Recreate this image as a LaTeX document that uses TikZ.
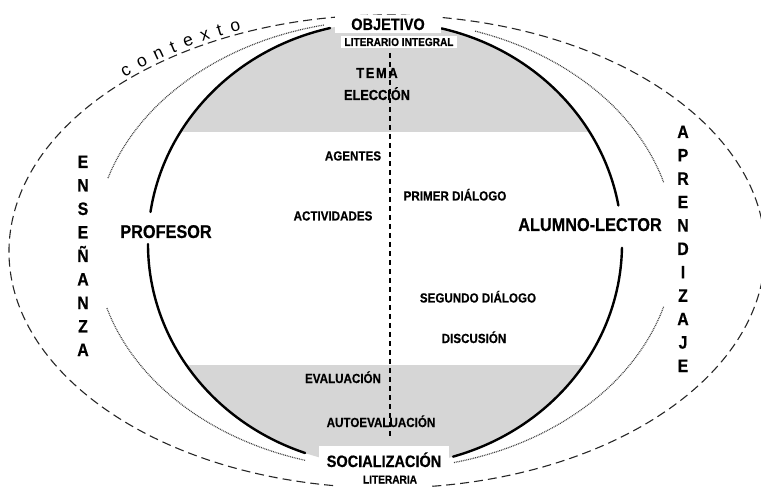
\documentclass[tikz,border=0pt]{standalone}
\usepackage{fontspec}
\setmainfont{Liberation Sans}
\newfontfamily\nf{Liberation Sans}[FakeStretch=0.88, FakeBold=0.5]
\newfontfamily\ctxf{Liberation Sans}
\usetikzlibrary{decorations.text}
\tikzset{
  shadefill/.style={fill=black!16},
  mainline/.style={line width=2.4pt, line cap=round},
  dotline/.style={line width=1.2pt, dash pattern=on 0.9pt off 0.9pt, black!75},
  outerline/.style={line width=1.1pt, dash pattern=on 9pt off 5pt, black!85},
  vdash/.style={line width=1.8pt, dash pattern=on 5pt off 4pt},
  lbl/.style={font=\nf\bfseries\fontsize{13.2}{13.2}\selectfont, anchor=base, inner sep=0pt},
  small/.style={font=\nf\bfseries\fontsize{11.5}{11.5}\selectfont, anchor=base, inner sep=0pt},
  mid/.style={font=\nf\bfseries\fontsize{14.5}{14.5}\selectfont, anchor=base, inner sep=0pt},
  big/.style={font=\nf\bfseries\fontsize{18.5}{18.5}\selectfont, anchor=base, inner sep=0pt},
  head/.style={font=\nf\bfseries\fontsize{16.5}{16.5}\selectfont, anchor=base, inner sep=0pt},
  vlet/.style={font=\nf\bfseries\fontsize{18}{18}\selectfont, anchor=base, inner sep=0pt},
}
\begin{document}
\begin{tikzpicture}[x=1pt,y=-1pt]
\useasboundingbox (0,0) rectangle (761,489);
\clip (0,0) rectangle (761,489);
\coordinate (M) at (385,244);
\coordinate (D) at (385,244.5);
\coordinate (O) at (387,251.5);
% shaded bands
\begin{scope}
  \clip (M) ellipse [x radius=237, y radius=222];
  \fill[shadefill] (140,10) rectangle (630,132);
  \fill[shadefill] (140,365) rectangle (630,475);
\end{scope}
% main ellipse
\draw[mainline] (M) ++(1:237 and 222) arc[start angle=1, end angle=73.3, x radius=237, y radius=222];
\draw[mainline] (M) ++(109.7:237 and 222) arc[start angle=109.7, end angle=180, x radius=237, y radius=222];
\draw[mainline] (M) ++(188.3:237 and 222) arc[start angle=188.3, end angle=256.6, x radius=237, y radius=222];
\draw[mainline] (M) ++(283.8:237 and 222) arc[start angle=283.8, end angle=350, x radius=237, y radius=222];
% dotted ellipse
\draw[dotline] (D) ++(16.1:290 and 224.5) arc[start angle=16.1, end angle=76.3, x radius=290, y radius=224.5];
\draw[dotline] (D) ++(106:290 and 224.5) arc[start angle=106, end angle=163.6, x radius=290, y radius=224.5];
\draw[dotline] (D) ++(197.2:290 and 224.5) arc[start angle=197.2, end angle=258, x radius=290, y radius=224.5];
\draw[dotline] (D) ++(288.1:290 and 224.5) arc[start angle=288.1, end angle=343.9, x radius=290, y radius=224.5];
% outer dashed ellipse
\draw[outerline] (O) ++(98.2:378 and 236.5) arc[start angle=98.2, end angle=443.5, x radius=378, y radius=236.5];
% contexto along the outer curve
\path[decorate, decoration={text along path, text={|\ctxf\fontsize{17.5}{17.5}\selectfont|contexto}, text align=fit to path}]
  (O) ++(226.5:381 and 240) arc[start angle=226.5, end angle=247.5, x radius=381, y radius=240];
% vertical dashed divider
\coordinate (vt) at (390,53);
\coordinate (vb) at (390,438);
\draw[vdash] (vt) -- (vb);
% labels
\node[head, fill=white, inner xsep=16pt, inner ysep=3pt] (obj) at (388,30) {OBJETIVO};
\node[small, fill=white, inner xsep=3pt, inner ysep=2pt] (lit) at (399,46) {LITERARIO INTEGRAL};
\node[mid] (tema) at (377,78) {\addfontfeature{LetterSpace=12}TEMA};
\node[mid] (elec) at (377,100) {ELECCIÓN};
\node[lbl] (agen) at (353,160.5) {AGENTES};
\node[lbl] (prim) at (455,200.5) {PRIMER DIÁLOGO};
\node[lbl] (acti) at (333,220.5) {ACTIVIDADES};
\node[big] (prof) at (166,238) {PROFESOR};
\node[big] (alum) at (590,231) {ALUMNO-LECTOR};
\node[lbl] (segu) at (478,302.5) {SEGUNDO DIÁLOGO};
\node[lbl] (disc) at (474,343) {DISCUSIÓN};
\node[lbl] (eval) at (343,383) {EVALUACIÓN};
\node[lbl] (auto) at (381,427) {AUTOEVALUACIÓN};
\node[head, fill=white, inner xsep=8pt, inner ysep=6pt] (soci) at (384,467) {SOCIALIZACIÓN};
\node[small] (lita) at (390,483.5) {LITERARIA};
\foreach \l [count=\i from 0] in {E,N,S,E,Ñ,A,N,Z,A}
  \node[vlet] (ens\i) at (83,168+23.5*\i) {\l};
\foreach \l [count=\i from 0] in {A,P,R,E,N,D,I,Z,A,J,E}
  \node[vlet] (apr\i) at (683,138+23.4*\i) {\l};
\end{tikzpicture}
\end{document}
